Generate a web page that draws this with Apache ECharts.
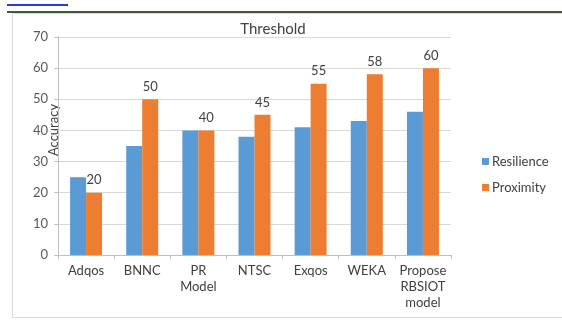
<!DOCTYPE html>
<html>
<head>
<meta charset="utf-8">
<script src="https://cdn.jsdelivr.net/npm/echarts@6/dist/echarts.min.js"></script>
<style>
  html, body { margin: 0; padding: 0; background: #fff; }
  #chart { width: 562px; height: 320px; }
</style>
</head>
<body>
<div id="chart"></div>
<script>
// data
const categories = ['Adqos', 'BNNC', 'PR\nModel', 'NTSC', 'Exqos', 'WEKA', 'Propose\nRBSIOT\nmodel'];
const resilience = [25, 35, 40, 38, 41, 43, 46];
const proximity = [20, 50, 40, 45, 55, 58, 60];
const yTicks = [0, 10, 20, 30, 40, 50, 60, 70];

const font = 'Lato, "Open Sans", sans-serif';
const chart = echarts.init(document.getElementById('chart'));

const option = {
  animation: false,
  textStyle: { fontFamily: font },
  title: {
    text: 'Threshold',
    left: 268,
    top: 17,
    textAlign: 'center',
    textStyle: { fontSize: 15, fontWeight: 'normal', color: '#404040', fontFamily: font }
  },
  legend: {
    orient: 'vertical',
    left: 477,
    top: 150,
    itemWidth: 7,
    itemHeight: 7,
    itemGap: 13,
    icon: 'rect',
    textStyle: { fontSize: 13, color: '#404040', fontFamily: font, padding: [0, 0, 0, -2] },
    data: ['Resilience', 'Proximity']
  },
  grid: { left: 58, right: 111, top: 37, bottom: 65 },
  xAxis: {
    type: 'category',
    data: categories,
    axisLine: { lineStyle: { color: '#bfbfbf' } },
    axisTick: { show: true, length: 4, lineStyle: { color: '#bfbfbf' } },
    axisLabel: { fontSize: 13, color: '#404040', lineHeight: 16, margin: 8, interval: 0 }
  },
  yAxis: {
    type: 'value',
    min: yTicks[0],
    max: yTicks[yTicks.length - 1],
    interval: 10,
    name: 'Accuracy',
    nameLocation: 'middle',
    nameGap: -2,
    nameMoveOverlap: false,
    nameTextStyle: { fontSize: 13, color: '#404040', padding: [0, 0, 0, 32] },
    axisLine: { show: true, lineStyle: { color: '#bfbfbf' } },
    axisTick: { show: true, length: 4, lineStyle: { color: '#bfbfbf' } },
    axisLabel: { fontSize: 13, color: '#595959', margin: 10 },
    splitLine: { lineStyle: { color: '#d9d9d9' } }
  },
  series: [
    {
      name: 'Resilience',
      type: 'bar',
      data: resilience,
      barWidth: 16,
      barGap: '0%',
      itemStyle: { color: '#5B9BD5' }
    },
    {
      name: 'Proximity',
      type: 'bar',
      data: proximity,
      barWidth: 16,
      itemStyle: { color: '#ED7D31' },
      label: { show: true, position: 'top', distance: 6, fontSize: 13, color: '#404040' }
    }
  ],
  graphic: [
    { type: 'rect', shape: { x: 12.5, y: 13.5, width: 560, height: 304 }, style: { fill: null, stroke: '#d9d9d9', lineWidth: 1 }, silent: true },
    { type: 'line', shape: { x1: 7, y1: 12, x2: 562, y2: 12 }, style: { stroke: '#3c5a3c', lineWidth: 2 }, silent: true },
    { type: 'line', shape: { x1: 7, y1: 5, x2: 68, y2: 5 }, style: { stroke: '#2a3fd0', lineWidth: 2 }, silent: true }
  ]
};

chart.setOption(option);
</script>
</body>
</html>
